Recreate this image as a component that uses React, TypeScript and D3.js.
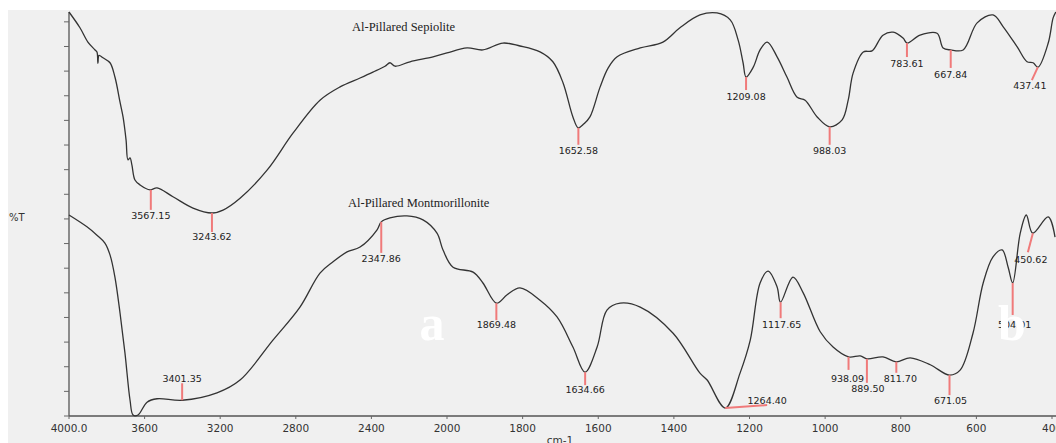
import React, { useRef, useEffect } from "react";
import * as d3 from "d3";

// wavenumber (cm-1) and transmittance (%T, arbitrary offset units)
const sepioliteWn = [
  4000, 3942, 3900, 3862, 3852, 3847, 3841, 3820, 3783, 3757, 3730, 3714, 3698,
  3688, 3677, 3667, 3651, 3624, 3571, 3534, 3450, 3344, 3243, 3185, 3095, 2952,
  2815, 2672, 2566, 2460, 2392, 2328, 2302, 2275, 2196, 2074, 2000, 1947, 1905,
  1852, 1807, 1754, 1720, 1693, 1667, 1653, 1638, 1622, 1595, 1574, 1550, 1489,
  1429, 1384, 1331, 1286, 1251, 1230, 1217, 1209, 1190, 1172, 1153, 1127, 1101,
  1074, 1053, 1021, 988, 955, 939, 926, 899, 876, 847, 820, 794, 783, 749, 704,
  688, 668, 635, 598, 556, 529, 492, 466, 450, 437, 410, 397, 390,
];
const sepioliteT = [
  82.0, 78.8, 75.9, 74.3, 73.9, 71.6, 73.2, 72.7, 71.7, 68.8, 63.7, 60.7, 56.0,
  52.0, 52.4, 50.9, 47.9, 46.9, 45.9, 46.3, 44.5, 42.2, 41.2, 41.8, 44.2, 49.9,
  57.4, 64.1, 66.8, 68.6, 69.8, 71.0, 71.7, 71.0, 71.9, 72.9, 73.7, 74.7, 74.3,
  75.7, 75.1, 73.9, 71.9, 67.6, 60.7, 58.5, 59.3, 60.7, 66.8, 70.6, 72.9, 74.7,
  75.9, 78.8, 81.4, 81.8, 80.4, 76.3, 71.7, 68.8, 70.8, 74.3, 75.9, 72.9, 68.8,
  64.7, 64.1, 60.7, 58.7, 60.1, 64.1, 69.6, 73.9, 74.1, 77.3, 77.9, 76.7, 75.7,
  77.3, 77.7, 74.7, 74.3, 74.3, 79.8, 81.4, 79.0, 74.9, 71.9, 71.7, 70.8, 75.7,
  80.8, 82.0,
];

const montWn = [
  4000, 3905, 3852, 3810, 3783, 3757, 3730, 3704, 3677, 3661, 3635, 3587, 3534,
  3401, 3217, 3095, 2921, 2778, 2672, 2603, 2529, 2460, 2370, 2348, 2302, 2212,
  2127, 2053, 2021, 1984, 1931, 1905, 1869, 1841, 1807, 1754, 1709, 1667, 1635,
  1603, 1577, 1542, 1489, 1402, 1331, 1312, 1264, 1225, 1198, 1172, 1151, 1127,
  1118, 1085, 1058, 1013, 979, 938, 907, 889, 847, 812, 775, 722, 671, 643, 609,
  582, 556, 532, 516, 504, 484, 468, 451, 410, 392,
];
const montT = [
  40.8, 38.4, 36.7, 35.1, 32.7, 28.2, 20.9, 12.8, 3.2, 0.2, 0.2, 2.8, 3.5, 3.2,
  4.7, 7.3, 15.4, 22.1, 29.0, 31.3, 33.3, 34.3, 37.8, 39.4, 40.2, 40.6, 39.8,
  37.1, 33.7, 30.2, 29.2, 27.0, 22.9, 24.6, 26.0, 23.5, 20.1, 14.0, 8.9, 14.0,
  21.5, 22.9, 22.1, 16.8, 8.7, 7.3, 1.6, 8.7, 15.4, 27.0, 29.4, 26.2, 23.1, 28.2,
  25.0, 17.1, 14.0, 12.0, 12.2, 11.6, 12.0, 11.0, 11.8, 10.4, 8.3, 9.3, 16.8,
  27.0, 32.3, 33.7, 30.2, 27.0, 37.1, 40.8, 37.1, 40.4, 36.3,
];

// labelled peaks: wavenumber, label text, %T at peak
const sepiolitePeaks = [
  [3567.15, "3567.15", 45.9],
  [3243.62, "3243.62", 41.2],
  [1652.58, "1652.58", 58.5],
  [1209.08, "1209.08", 68.8],
  [988.03, "988.03", 58.7],
  [783.61, "783.61", 75.7],
  [667.84, "667.84", 74.3],
  [437.41, "437.41", 70.8],
];
const montPeaks = [
  [3401.35, "3401.35", 3.2],
  [2347.86, "2347.86", 39.4],
  [1869.48, "1869.48", 22.9],
  [1634.66, "1634.66", 8.9],
  [1264.4, "1264.40", 1.6],
  [1117.65, "1117.65", 23.1],
  [938.09, "938.09", 12.0],
  [889.5, "889.50", 11.6],
  [811.7, "811.70", 11.0],
  [671.05, "671.05", 8.3],
  [504.01, "504.01", 27.0],
  [450.62, "450.62", 37.1],
];

const xTicks = [4000, 3600, 3200, 2800, 2400, 2000, 1800, 1600, 1400, 1200, 1000, 800, 600, 400];

// marker end / label offsets (px) relative to the peak point
const peakLayout = {
  "3567.15": [0, 20, 0, 29],
  "3243.62": [0, 19, 0, 27],
  "1652.58": [0, 17, 0, 26],
  "1209.08": [0, 13, 0, 23],
  "988.03": [0, 18, 0, 27],
  "783.61": [0, 14, 0, 24],
  "667.84": [0, 18, 0, 28],
  "437.41": [-6, 13, -8, 22],
  "3401.35": [0, -17, 0, -18],
  "2347.86": [0, 31, 0, 40],
  "1869.48": [0, 17, 0, 25],
  "1634.66": [0, 13, 0, 21],
  "1264.40": [42, -3, 42, -4],
  "1117.65": [0, 16, 1, 26],
  "938.09": [0, 13, -1, 25],
  "889.50": [0, 24, 1, 33],
  "811.70": [0, 11, 4, 20],
  "671.05": [0, 20, 1, 29],
  "504.01": [0, 32, 2, 45],
  "450.62": [-5, 19, -2, 30],
};

function SpectraChart() {
  const svgRef = useRef(null);

  useEffect(() => {
    const width = 1056;
    const height = 443;
    const svg = d3.select(svgRef.current);
    svg.selectAll("*").remove();

    const axisY = 416;
    const axisTop = 12;

    // FTIR style axis: scale changes at 2000 cm-1
    const x = d3.scaleLinear().domain([4000, 2000, 400]).range([69, 447, 1052]);
    const y = d3.scaleLinear().domain([0, 82]).range([axisY, axisTop]);

    svg.append("rect").attr("width", width).attr("height", height).attr("fill", "#fff");
    svg
      .append("rect")
      .attr("x", 8)
      .attr("y", 10)
      .attr("width", width - 8)
      .attr("height", height - 10)
      .attr("fill", "#f0f0f0");

    // y axis
    svg
      .append("line")
      .attr("x1", 69)
      .attr("x2", 69)
      .attr("y1", axisTop)
      .attr("y2", axisY)
      .attr("stroke", "#555")
      .attr("stroke-width", 1.3);
    svg
      .selectAll(".ytick")
      .data(d3.range(0, 82, 5))
      .enter()
      .append("line")
      .attr("x1", 64)
      .attr("x2", 69)
      .attr("y1", (d) => y(d))
      .attr("y2", (d) => y(d))
      .attr("stroke", "#666")
      .attr("stroke-width", 1);

    // x axis
    svg
      .append("line")
      .attr("x1", 69)
      .attr("x2", 1056)
      .attr("y1", axisY)
      .attr("y2", axisY)
      .attr("stroke", "#555")
      .attr("stroke-width", 1.3);
    svg
      .selectAll(".xtick")
      .data(xTicks)
      .enter()
      .append("line")
      .attr("x1", (d) => x(d))
      .attr("x2", (d) => x(d))
      .attr("y1", axisY)
      .attr("y2", axisY + 3)
      .attr("stroke", "#666");
    svg
      .selectAll(".xlabel")
      .data(xTicks)
      .enter()
      .append("text")
      .attr("x", (d) => x(d))
      .attr("y", axisY + 16)
      .attr("text-anchor", "middle")
      .attr("font-family", "DejaVu Sans, Verdana, sans-serif")
      .attr("font-size", 10.5)
      .attr("fill", "#333")
      .text((d) => (d === 4000 ? "4000.0" : String(d)));

    svg
      .append("text")
      .attr("x", 560)
      .attr("y", 444)
      .attr("text-anchor", "middle")
      .attr("font-family", "DejaVu Sans, Verdana, sans-serif")
      .attr("font-size", 10.5)
      .attr("fill", "#333")
      .text("cm-1");

    svg
      .append("text")
      .attr("x", 9)
      .attr("y", 221)
      .attr("font-family", "DejaVu Sans, Verdana, sans-serif")
      .attr("font-size", 10)
      .attr("fill", "#333")
      .text("%T");

    // spectra
    const line = d3
      .line()
      .x((d) => x(d[0]))
      .y((d) => y(d[1]))
      .curve(d3.curveCatmullRom.alpha(0.5));

    const series = [
      { wn: sepioliteWn, t: sepioliteT, peaks: sepiolitePeaks },
      { wn: montWn, t: montT, peaks: montPeaks },
    ];

    series.forEach((s) => {
      svg
        .append("path")
        .datum(s.wn.map((w, i) => [w, s.t[i]]))
        .attr("d", line)
        .attr("fill", "none")
        .attr("stroke", "#333")
        .attr("stroke-width", 1.3)
        .attr("stroke-linejoin", "round");
    });

    series.forEach((s) => {
      s.peaks.forEach(([wn, label, t]) => {
        const px = x(wn);
        const py = y(t);
        const [mdx, mdy, ldx, ldy] = peakLayout[label];
        svg
          .append("line")
          .attr("x1", px)
          .attr("y1", py)
          .attr("x2", px + mdx)
          .attr("y2", py + mdy)
          .attr("stroke", "#f07a7a")
          .attr("stroke-width", 2);
        svg
          .append("text")
          .attr("x", px + ldx)
          .attr("y", py + ldy)
          .attr("text-anchor", "middle")
          .attr("font-family", "DejaVu Sans, Verdana, sans-serif")
          .attr("font-size", 9.5)
          .attr("fill", "#222")
          .text(label);
      });
    });

    // series titles
    svg
      .append("text")
      .attr("x", 352)
      .attr("y", 31)
      .attr("font-family", "Liberation Serif, Times New Roman, serif")
      .attr("font-size", 12.5)
      .attr("fill", "#222")
      .text("Al-Pillared Sepiolite");
    svg
      .append("text")
      .attr("x", 348)
      .attr("y", 207)
      .attr("font-family", "Liberation Serif, Times New Roman, serif")
      .attr("font-size", 12.5)
      .attr("fill", "#222")
      .text("Al-Pillared Montmorillonite");

    // panel letters
    [
      ["a", 432, 340],
      ["b", 1012, 340],
    ].forEach(([txt, lx, ly]) => {
      svg
        .append("text")
        .attr("x", lx)
        .attr("y", ly)
        .attr("text-anchor", "middle")
        .attr("font-family", "Liberation Serif, Times New Roman, serif")
        .attr("font-weight", "bold")
        .attr("font-size", 50)
        .attr("fill", "#fff")
        .text(txt);
    });
  }, []);

  return (
    <svg
      ref={svgRef}
      width={1056}
      height={443}
      style={{ position: "absolute", left: 0, top: 0, display: "block" }}
    ></svg>
  );
}

export default function App() {
  return <SpectraChart />;
}
